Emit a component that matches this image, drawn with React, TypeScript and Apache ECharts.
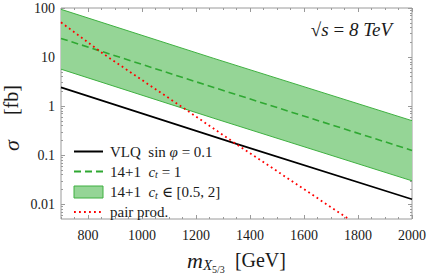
import { useEffect, useRef } from 'react';
import * as echarts from 'echarts';

// ---- data ----
const X_MIN = 700;
const X_MAX = 2000;
const Y_MIN = 0.005;
const Y_MAX = 100;

const vlqX = [700, 1350, 2000];
const vlqY = [2.41, 0.17, 0.0127];

const ct1X = [700, 1266, 2000];
const ct1Y = [24, 2.4, 0.125];

const bandX = [700, 1266, 2000];
const bandUpper = [94, 9.4, 0.505];
const bandLower = [5.66, 0.565, 0.03];

const pairX = [700, 856, 1000, 1140, 1350, 1550, 1770];
const pairY = [51, 11.7, 3.4, 1.03, 0.167, 0.031, 0.0048];

const xLabelTicks = [800, 1000, 1200, 1400, 1600, 1800, 2000];
const yLabelTicks = [0.01, 0.1, 1, 10, 100];
const yMinorTicks = [
  0.006, 0.007, 0.008, 0.009,
  0.02, 0.03, 0.04, 0.05, 0.06, 0.07, 0.08, 0.09,
  0.2, 0.3, 0.4, 0.5, 0.6, 0.7, 0.8, 0.9,
  2, 3, 4, 5, 6, 7, 8, 9,
  20, 30, 40, 50, 60, 70, 80, 90,
];

const FONT = '"Liberation Serif", "DejaVu Serif", serif';
const FRAME = '#9a9a9a';
const TEXT = '#1a1a1a';
const BAND_FILL = '#95d596';
const BAND_EDGE = '#3fb041';
const DASH_GREEN = '#2fa832';

const pairs = (xs: number[], ys: number[]) => xs.map((x, i) => [x, ys[i]]);

const tickStyle = (len: number, custom?: number[]) => ({
  show: true,
  inside: true,
  length: len,
  lineStyle: { color: FRAME, width: 1 },
  ...(custom ? { customValues: custom } : {}),
});

const baseX = {
  type: 'value',
  min: X_MIN,
  max: X_MAX,
  axisLine: { show: false },
  splitLine: { show: false },
  axisLabel: { show: false },
};

const baseY = {
  type: 'log',
  logBase: 10,
  min: Y_MIN,
  max: Y_MAX,
  axisLine: { show: false },
  splitLine: { show: false },
  minorSplitLine: { show: false },
  axisLabel: { show: false },
};

const legendNames: Record<string, string> = {
  VLQ: '{r|VLQ  sin }{i|φ}{r| = 0.1}',
  ct1: '{r|14+1  }{i|c}{s|t}{r| = 1}',
  band: '{r|14+1  }{i|c}{s|t}{r| ∈ [0.5, 2]}',
  pair: '{r|pair prod.}',
};

export default function App() {
  const ref = useRef<HTMLDivElement>(null);
  useEffect(() => {
    document.body.style.margin = '0';
    const chart = echarts.init(ref.current!, null, { renderer: 'svg' });
    const option: any = {
      animation: false,
      backgroundColor: '#ffffff',
      grid: {
        left: 61,
        right: 16,
        top: 8,
        bottom: 53.5,
        show: true,
        borderColor: FRAME,
        borderWidth: 1,
        backgroundColor: 'transparent',
      },
      xAxis: [
        {
          ...baseX,
          position: 'bottom',
          axisTick: tickStyle(4, xLabelTicks),
          axisLabel: {
            show: true,
            customValues: xLabelTicks,
            margin: 9,
            fontSize: 14,
            fontFamily: FONT,
            color: TEXT,
            formatter: (v: number) => String(v),
          },
          name: '{m|m}{x|X}{f|5/3}{n|  [GeV]}',
          nameLocation: 'middle',
          nameGap: 27,
          nameTextStyle: {
            fontFamily: FONT,
            color: TEXT,
            rich: {
              m: { fontSize: 22, fontStyle: 'italic', fontFamily: FONT, color: TEXT },
              x: { fontSize: 15, fontStyle: 'italic', fontFamily: FONT, color: TEXT, padding: [10, 0, 0, 0] },
              f: { fontSize: 10, fontFamily: FONT, color: TEXT, padding: [18, 0, 0, 0] },
              n: { fontSize: 20, fontFamily: FONT, color: TEXT },
            },
          },
        },
        { ...baseX, position: 'bottom', interval: 50, axisTick: tickStyle(2) },
        { ...baseX, position: 'top', axisTick: tickStyle(4, xLabelTicks) },
        { ...baseX, position: 'top', interval: 50, axisTick: tickStyle(2) },
      ],
      yAxis: [
        {
          ...baseY,
          position: 'left',
          axisTick: tickStyle(4, yLabelTicks),
          axisLabel: {
            show: true,
            customValues: yLabelTicks,
            margin: 6,
            fontSize: 14,
            fontFamily: FONT,
            color: TEXT,
            formatter: (v: number) => (v >= 1 ? String(Math.round(v)) : String(+v.toPrecision(1))),
          },
        },
        { ...baseY, position: 'left', axisTick: tickStyle(2, yMinorTicks) },
        { ...baseY, position: 'right', axisTick: tickStyle(4, yLabelTicks) },
        { ...baseY, position: 'right', axisTick: tickStyle(2, yMinorTicks) },
      ],
      legend: {
        orient: 'vertical',
        left: 73,
        top: 144,
        padding: 0,
        itemWidth: 29,
        itemHeight: 12,
        itemGap: 4.5,
        selectedMode: false,
        itemStyle: { opacity: 0 },
        formatter: (name: string) => legendNames[name] || name,
        textStyle: {
          fontFamily: FONT,
          color: TEXT,
          fontSize: 15,
          lineHeight: 12,
          padding: [0, 0, 0, 2],
          rich: {
            r: { fontSize: 15, lineHeight: 12, fontFamily: FONT, color: TEXT },
            i: { fontSize: 15, lineHeight: 12, fontStyle: 'italic', fontFamily: FONT, color: TEXT },
            s: { fontSize: 10, lineHeight: 6, fontStyle: 'italic', fontFamily: FONT, color: TEXT, padding: [6, 0, 0, 0] },
          },
        },
        data: [
          { name: 'VLQ' },
          { name: 'ct1' },
          {
            name: 'band',
            icon: 'rect',
            itemStyle: { color: BAND_FILL, borderColor: BAND_EDGE, borderWidth: 1, opacity: 1 },
          },
          { name: 'pair' },
        ],
      },
      graphic: [
        {
          type: 'text',
          right: 37,
          top: 20,
          style: {
            text: '{r|√}{i|s}{r| = }{i|8 TeV}',
            fill: TEXT,
            rich: {
              r: { fontSize: 19, fontFamily: FONT, fill: TEXT },
              i: { fontSize: 19, fontStyle: 'italic', fontFamily: FONT, fill: TEXT },
            },
          },
        },
        {
          type: 'text',
          x: 11,
          y: 118,
          rotation: Math.PI / 2,
          style: {
            text: '{s|σ}{n|     [fb]}',
            align: 'center',
            verticalAlign: 'middle',
            fill: TEXT,
            rich: {
              s: { fontSize: 22, fontStyle: 'italic', fontFamily: FONT, fill: TEXT },
              n: { fontSize: 20, fontFamily: FONT, fill: TEXT },
            },
          },
        },
      ],
      series: [
        {
          type: 'custom',
          name: 'band',
          xAxisIndex: 0,
          yAxisIndex: 0,
          z: 1,
          clip: true,
          itemStyle: { color: BAND_FILL, borderColor: BAND_EDGE },
          data: [[bandX[0], bandUpper[0]]],
          renderItem: (_params: any, api: any) => {
            const top = bandX.map((x, i) => api.coord([x, bandUpper[i]]));
            const bot = bandX.map((x, i) => api.coord([x, bandLower[i]]));
            return {
              type: 'group',
              children: [
                {
                  type: 'polygon',
                  shape: { points: [...top, ...bot.slice().reverse()] },
                  style: { fill: BAND_FILL, stroke: 'none' },
                },
                { type: 'polyline', shape: { points: top }, style: { fill: 'none', stroke: BAND_EDGE, lineWidth: 1 } },
                { type: 'polyline', shape: { points: bot }, style: { fill: 'none', stroke: BAND_EDGE, lineWidth: 1 } },
              ],
            };
          },
        },
        {
          type: 'line',
          name: 'ct1',
          xAxisIndex: 0,
          yAxisIndex: 0,
          z: 3,
          symbol: 'none',
          data: pairs(ct1X, ct1Y),
          itemStyle: { color: DASH_GREEN },
          lineStyle: { color: DASH_GREEN, width: 1.6, type: [7, 4] },
        },
        {
          type: 'line',
          name: 'VLQ',
          xAxisIndex: 0,
          yAxisIndex: 0,
          z: 3,
          symbol: 'none',
          data: pairs(vlqX, vlqY),
          itemStyle: { color: '#000000' },
          lineStyle: { color: '#000000', width: 1.6 },
        },
        {
          type: 'line',
          name: 'pair',
          xAxisIndex: 0,
          yAxisIndex: 0,
          z: 4,
          symbol: 'none',
          data: pairs(pairX, pairY),
          itemStyle: { color: '#ff0000' },
          lineStyle: { color: '#ff0000', width: 1.8, type: [1.8, 3.2] },
        },
      ],
    };
    chart.setOption(option);
    return () => chart.dispose();
  }, []);
  return <div ref={ref} style={{ width: 429, height: 279 }} />;
}
